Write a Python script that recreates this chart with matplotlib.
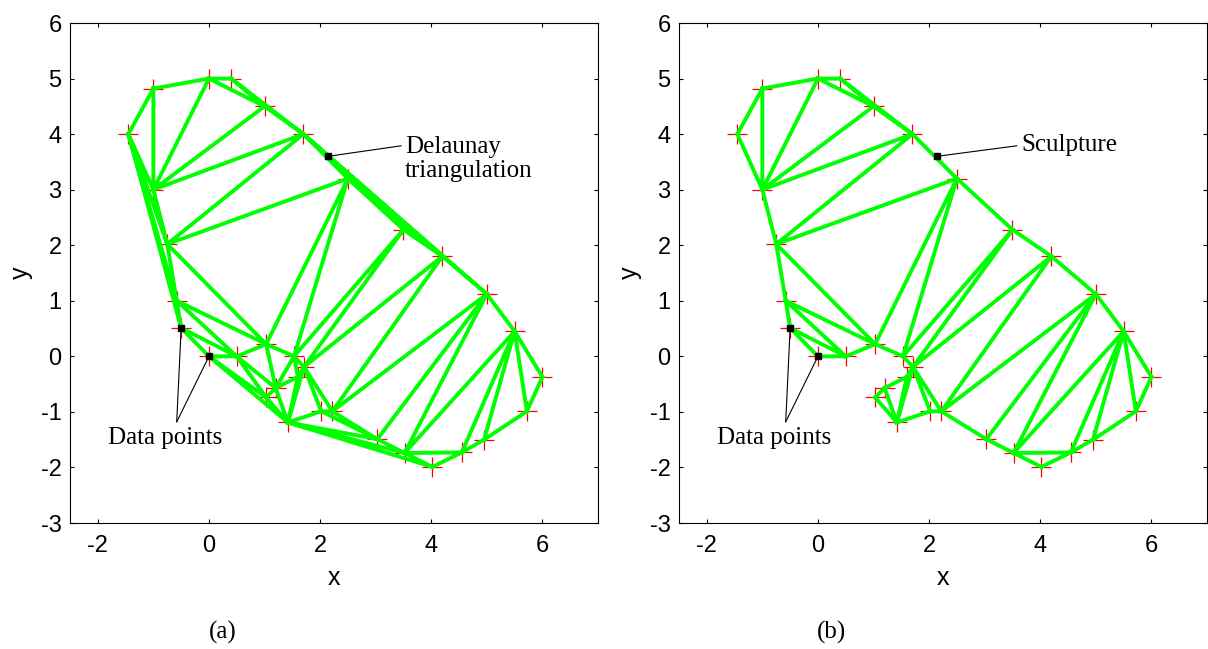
import numpy as np
import matplotlib
matplotlib.use("Agg")
import matplotlib.pyplot as plt
import matplotlib.tri as mtri
from matplotlib.path import Path

# scattered data points
px = [-1.45, -1.0, 0.0, 0.4, 1.0, 1.7, 2.5, 3.5, 4.2, 5.0, 5.5, 6.0, 5.72,
      4.95, 4.55, 4.02, 3.52, 3.03, 2.22, 2.02, 1.42, 1.03, 1.2, 1.6, 1.71,
      1.53, 1.03, 0.5, 0.0, -0.5, -0.58, -0.75, -1.0]
py = [4.0, 4.82, 5.0, 5.0, 4.5, 4.0, 3.2, 2.28, 1.8, 1.12, 0.45, -0.37, -0.99,
      -1.5, -1.73, -1.99, -1.74, -1.49, -0.99, -0.99, -1.19, -0.74, -0.57, -0.37, -0.19,
      0.0, 0.22, 0.0, 0.0, 0.51, 1.0, 2.02, 3.0]

# triangles kept after sculpting (indices into px/py)
sculpt_tris = [
    (0, 1, 32), (1, 2, 32), (2, 4, 32), (2, 3, 4), (3, 5, 4), (4, 5, 32),
    (5, 31, 32), (5, 6, 31), (6, 26, 31), (31, 30, 26), (30, 27, 26),
    (30, 29, 27), (29, 28, 27), (6, 25, 26), (6, 7, 25), (7, 24, 25),
    (7, 8, 24), (8, 18, 24), (8, 9, 18), (9, 17, 18), (9, 16, 17),
    (9, 10, 16), (10, 14, 16), (14, 15, 16), (10, 13, 14), (10, 12, 13),
    (10, 11, 12), (24, 19, 18), (24, 20, 19), (24, 23, 20), (23, 22, 20),
    (22, 21, 20),
]

# highlighted data points and annotation positions
hl_x = [-0.5, 0.0]
hl_y = [0.51, 0.0]
label_pt = (2.14, 3.6)

xticks = [-2, 0, 2, 4, 6]
yticks = [-3, -2, -1, 0, 1, 2, 3, 4, 5, 6]

plt.rcParams['font.family'] = 'Liberation Sans'
plt.rcParams['axes.unicode_minus'] = False
serif = 'Liberation Serif'
green = '#00ff00'

fig = plt.figure(figsize=(12.08, 6.49), dpi=100)
ax1 = fig.add_axes([70/1208, 126/649, 528/1208, 500/649])
ax2 = fig.add_axes([679/1208, 126/649, 528/1208, 500/649])

# full Delaunay: keep the sculpted triangles, fill the rest from qhull
dela = mtri.Triangulation(px, py)
pts = np.column_stack([px, py])
sculpt_paths = [Path(pts[list(t)]) for t in sculpt_tris]
extra = []
for t in dela.triangles:
    c = pts[t].mean(axis=0)
    if not any(p.contains_point(c) for p in sculpt_paths):
        extra.append(tuple(t))
tri_full = mtri.Triangulation(px, py, triangles=sculpt_tris + extra)
tri_sculpt = mtri.Triangulation(px, py, triangles=sculpt_tris)

panels = [(ax1, tri_full, 'Delaunay\ntriangulation', 3.53, 3.55, 3.46),
          (ax2, tri_sculpt, 'Sculpture', 3.66, 3.8, 3.58)]
for ax, tri, name, tx, ty, lx in panels:
    ax.plot(px, py, '+', color='red', ms=15, mew=0.9, zorder=1)
    ax.triplot(tri, color=green, lw=2.8, zorder=2)
    ax.plot(hl_x, hl_y, 's', color='black', ms=5, zorder=4)
    ax.plot([label_pt[0]], [label_pt[1]], 's', color='black', ms=5, zorder=4)

    ax.annotate('', xy=label_pt, xytext=(lx, 3.79),
                arrowprops=dict(arrowstyle='-', lw=0.8, color='black',
                                shrinkA=0, shrinkB=0))
    ax.text(tx, ty, name, family=serif, fontsize=18,
            ha='left', va='center', linespacing=1.1)

    for hx, hy in zip(hl_x, hl_y):
        ax.annotate('', xy=(hx, hy), xytext=(-0.58, -1.18),
                    arrowprops=dict(arrowstyle='-', lw=0.8, color='black',
                                    shrinkA=0, shrinkB=0))
    ax.text(-0.78, -1.47, 'Data points', family=serif, fontsize=18,
            ha='center', va='center')

    ax.set_xlim(-2.5, 7)
    ax.set_ylim(-3, 6)
    ax.set_xticks(xticks)
    ax.set_yticks(yticks)
    ax.tick_params(direction='in', length=3, width=0.8, labelsize=17,
                   top=True, right=True, pad=6)
    ax.tick_params(axis='x', pad=9)
    for s in ax.spines.values():
        s.set_linewidth(0.8)
    ax.set_xlabel('x', fontsize=18, labelpad=6)
    ax.set_ylabel('y', fontsize=18, labelpad=6)

fig.text(223/1208, 1 - 632/649, '(a)', family=serif, fontsize=18,
         ha='center', va='center')
fig.text(832/1208, 1 - 632/649, '(b)', family=serif, fontsize=18,
         ha='center', va='center')

fig.savefig('out.png', dpi=100)
